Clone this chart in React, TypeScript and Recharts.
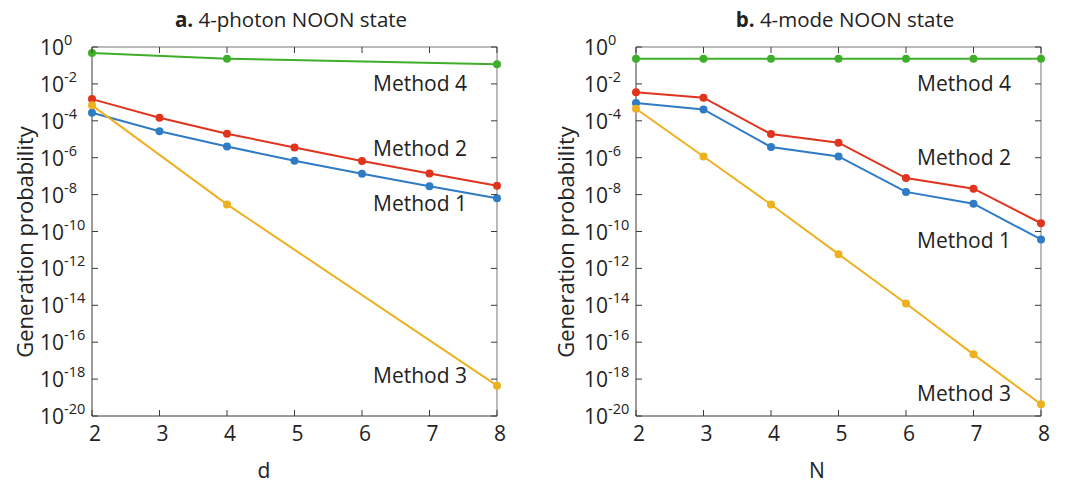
import React from 'react'
import { LineChart, Line, XAxis, YAxis } from 'recharts'

// x positions
const photonD = [2, 3, 4, 5, 6, 7, 8]
const modeN = [2, 3, 4, 5, 6, 7, 8]

// panel a: 4-photon NOON state (Method 3 and 4 only at d = 2, 4, 8)
const photonMethod1 = [2.75e-4, 2.7e-5, 4.0e-6, 6.9e-7, 1.35e-7, 2.8e-8, 6.3e-9]
const photonMethod2 = [1.5e-3, 1.48e-4, 2.0e-5, 3.6e-6, 6.6e-7, 1.4e-7, 3.0e-8]
const photonMethod3 = [6.9e-4, null, 2.95e-9, null, null, null, 4.4e-19]
const photonMethod4 = [0.47, null, 0.23, null, null, null, 0.115]

// panel b: 4-mode NOON state
const modeMethod1 = [9.3e-4, 4.1e-4, 3.8e-6, 1.17e-6, 1.4e-8, 3.2e-9, 3.7e-11]
const modeMethod2 = [3.5e-3, 1.8e-3, 1.9e-5, 6.5e-6, 7.9e-8, 2.1e-8, 2.8e-10]
const modeMethod3 = [4.5e-4, 1.17e-6, 2.9e-9, 5.9e-12, 1.26e-14, 2.2e-17, 4.3e-20]
const modeMethod4 = [0.23, 0.23, 0.23, 0.23, 0.23, 0.23, 0.23]

const xTicks = [2, 3, 4, 5, 6, 7, 8]
const yTicks = [1, 1e-2, 1e-4, 1e-6, 1e-8, 1e-10, 1e-12, 1e-14, 1e-16, 1e-18, 1e-20]

const FONT = '"Open Sans", sans-serif'
const AXIS = '#3a3a3a'
const TEXT = '#222'
const colors = {
    m1: '#2f7bc4',
    m2: '#e0341e',
    m3: '#edb120',
    m4: '#3fae2a'
}

const buildRows = (xs: number[], m1: any[], m2: any[], m3: any[], m4: any[]) =>
    xs.map((x, i) => ({ x, m1: m1[i], m2: m2[i], m3: m3[i], m4: m4[i] }))

const photonRows = buildRows(photonD, photonMethod1, photonMethod2, photonMethod3, photonMethod4)
const modeRows = buildRows(modeN, modeMethod1, modeMethod2, modeMethod3, modeMethod4)

const TICK_LEN = 6

const BottomTick = (props: any) => {
    const { x, y, payload } = props
    return (
        <g>
            <line x1={x} y1={y} x2={x} y2={y - TICK_LEN} stroke={AXIS} />
            <text x={x + 3} y={y + 25} textAnchor="middle" fontSize={21} fontFamily={FONT} fill={TEXT}>
                {payload.value}
            </text>
        </g>
    )
}

const TopTick = (props: any) => {
    const { x, y } = props
    return <line x1={x} y1={y} x2={x} y2={y + TICK_LEN} stroke={AXIS} />
}

const LeftTick = (props: any) => {
    const { x, y, payload } = props
    const exp = Math.round(Math.log10(payload.value))
    return (
        <g>
            <line x1={x} y1={y} x2={x + TICK_LEN} y2={y} stroke={AXIS} />
            <text x={x - 52} y={y + 8} fontSize={21} fontFamily={FONT} fill={TEXT}>
                <tspan>10</tspan>
                <tspan dy={-10} fontSize={14.5}>{exp}</tspan>
            </text>
        </g>
    )
}

const RightTick = (props: any) => {
    const { x, y } = props
    return <line x1={x} y1={y} x2={x - TICK_LEN} y2={y} stroke={AXIS} />
}

const series = ['m1', 'm2', 'm3', 'm4'] as const

const Panel = ({ rows, left }: { rows: any[]; left: number }) => (
    <div style={{ position: 'absolute', left, top: 0 }}>
        <LineChart
            width={540}
            height={483}
            data={rows}
            margin={{ top: 46, right: 42, left: 12, bottom: 7 }}
        >
            <XAxis
                dataKey="x"
                type="number"
                domain={[2, 8]}
                ticks={xTicks}
                interval={0}
                height={60}
                tickLine={false}
                tickSize={0}
                tickMargin={0}
                stroke={AXIS}
                tick={<BottomTick />}
            />
            <XAxis
                xAxisId="top"
                orientation="top"
                dataKey="x"
                type="number"
                domain={[2, 8]}
                ticks={xTicks}
                interval={0}
                height={1}
                tickLine={false}
                tickSize={0}
                tickMargin={0}
                stroke="#777"
                tick={<TopTick />}
            />
            <YAxis
                scale="log"
                type="number"
                domain={[1e-20, 1]}
                allowDataOverflow
                ticks={yTicks}
                interval={0}
                width={80}
                tickLine={false}
                tickSize={0}
                tickMargin={0}
                stroke={AXIS}
                tick={<LeftTick />}
            />
            <YAxis
                yAxisId="right"
                orientation="right"
                scale="log"
                type="number"
                domain={[1e-20, 1]}
                allowDataOverflow
                ticks={yTicks}
                interval={0}
                width={1}
                tickLine={false}
                tickSize={0}
                tickMargin={0}
                stroke="#777"
                tick={<RightTick />}
            />
            {series.map((key) => (
                <Line
                    key={key}
                    type="linear"
                    dataKey={key}
                    stroke={colors[key]}
                    strokeWidth={2}
                    dot={{ r: 4, fill: colors[key], stroke: colors[key], strokeWidth: 0 }}
                    activeDot={false}
                    connectNulls
                    isAnimationActive={false}
                />
            ))}
        </LineChart>
    </div>
)

const Label = ({ text, left, cy, size = 21 }: { text: string; left: number; cy: number; size?: number }) => (
    <div
        style={{
            position: 'absolute',
            left,
            top: cy - 12,
            lineHeight: '24px',
            fontSize: size,
            fontFamily: FONT,
            color: TEXT,
            whiteSpace: 'nowrap'
        }}
    >
        {text}
    </div>
)

const Centered = ({ children, cx, cy, rotate = 0, size = 21 }: { children: React.ReactNode; cx: number; cy: number; rotate?: number; size?: number }) => (
    <div
        style={{
            position: 'absolute',
            left: cx,
            top: cy,
            transform: `translate(-50%, -50%) rotate(${rotate}deg)`,
            lineHeight: '24px',
            fontSize: size,
            fontFamily: FONT,
            color: TEXT,
            whiteSpace: 'nowrap'
        }}
    >
        {children}
    </div>
)

export default function App() {
    return (
        <div style={{ position: 'absolute', left: 0, top: 0, width: 1081, height: 483, background: '#fff', overflow: 'hidden' }}>
            <Panel rows={photonRows} left={0} />
            <Panel rows={modeRows} left={544} />

            <Centered cx={291} cy={19} size={20.5}>
                <b>a.</b> 4-photon NOON state
            </Centered>
            <Centered cx={845} cy={19} size={20.5}>
                <b>b.</b> 4-mode NOON state
            </Centered>

            <Centered cx={24} cy={242} rotate={-90} size={22}>Generation probability</Centered>
            <Centered cx={565} cy={242} rotate={-90} size={22}>Generation probability</Centered>

            <Centered cx={264} cy={470}>d</Centered>
            <Centered cx={817} cy={470}>N</Centered>

            <Label text="Method 4" left={373} cy={83} />
            <Label text="Method 2" left={373} cy={148} />
            <Label text="Method 1" left={373} cy={203} />
            <Label text="Method 3" left={373} cy={375} />

            <Label text="Method 4" left={917} cy={83} />
            <Label text="Method 2" left={917} cy={157} />
            <Label text="Method 1" left={917} cy={240} />
            <Label text="Method 3" left={917} cy={393} />
        </div>
    )
}
